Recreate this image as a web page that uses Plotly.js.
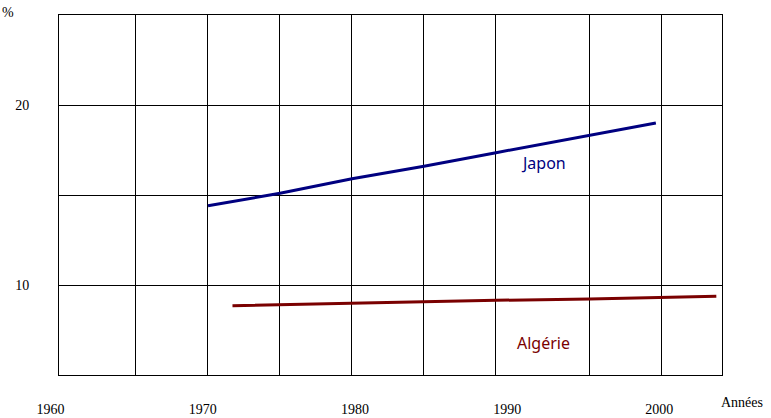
<!DOCTYPE html>
<html><head><meta charset="utf-8">
<script src="https://cdn.plot.ly/plotly-3.0.1.min.js"></script>
<style>body{margin:0;background:#fff}</style>
</head><body>
<div id="chart" style="width:771px;height:418px"></div>
<script>
// Data
const japonYears = [1970, 1975, 1980, 1985, 1990, 2001.1];
const japonValues = [14.4, 15.1, 15.9, 16.6, 17.35, 19.0];
const algerieYears = [1971.7, 1975, 1980, 1985, 1990, 1996.5, 2001.5, 2005.3];
const algerieValues = [8.85, 8.91, 9.0, 9.07, 9.15, 9.22, 9.29, 9.37];
const gridYears = [1965, 1970, 1975, 1980, 1985, 1990, 1996.5, 2001.5];
const labelYears = [1960, 1970, 1980, 1990, 2000];
const labelText = ['1960', '1970', '1980', '1990', '2000'];
const yTicks = [5, 10, 15, 20, 25];
const yTickText = ['', '10', '', '20', ''];

const traces = [
  {x: labelYears, y: labelYears.map(() => null), xaxis: 'x2', yaxis: 'y2', mode: 'markers', showlegend: false, hoverinfo: 'skip'},
  {x: japonYears, y: japonValues, mode: 'lines', line: {color: '#000080', width: 3}, showlegend: false, hoverinfo: 'skip'},
  {x: algerieYears, y: algerieValues, mode: 'lines', line: {color: '#7a0000', width: 3}, showlegend: false, hoverinfo: 'skip'}
];

const serif = {family: 'Liberation Serif, Times New Roman, serif', size: 14, color: '#000'};
const layout = {
  width: 771, height: 418,
  margin: {l: 30, r: 20, t: 15, b: 43},
  paper_bgcolor: '#fff', plot_bgcolor: 'rgba(0,0,0,0)',
  xaxis: {
    domain: [0.04022, 0.95978], range: [1959.653, 2005.694],
    tickmode: 'array', tickvals: gridYears, showticklabels: false, ticks: '',
    showgrid: true, gridcolor: '#000', gridwidth: 1, zeroline: false,
    showline: true, mirror: true, linecolor: '#000', linewidth: 1
  },
  yaxis: {
    range: [5, 25], tickmode: 'array', tickvals: yTicks, ticktext: yTickText,
    ticks: '', ticklabelstandoff: 26, tickfont: serif,
    showgrid: true, gridcolor: '#000', gridwidth: 1, zeroline: false,
    showline: true, mirror: true, linecolor: '#000', linewidth: 1
  },
  xaxis2: {
    domain: [0, 1], range: [1958.65, 2006.02], anchor: 'y2',
    tickmode: 'array', tickvals: labelYears, ticktext: labelText,
    ticks: '', ticklabelstandoff: 24, tickfont: serif,
    showgrid: false, zeroline: false, showline: false
  },
  yaxis2: {domain: [0, 1], range: [5, 25], anchor: 'x2', visible: false},
  annotations: [
    {text: '%', xref: 'paper', yref: 'paper', x: -0.042, y: 1.008, xanchor: 'left', yanchor: 'middle', showarrow: false, font: serif},
    {text: 'Années', xref: 'paper', yref: 'paper', x: 0.9875, y: -0.05, xanchor: 'center', yanchor: 'top', showarrow: false, font: serif},
    {text: 'Japon', xref: 'x', yref: 'y', x: 1993.3, y: 16.78, xanchor: 'center', yanchor: 'middle', showarrow: false,
      font: {family: 'Noto Sans, sans-serif', size: 16, color: '#000080'}},
    {text: 'Algérie', xref: 'x', yref: 'y', x: 1993.3, y: 6.78, xanchor: 'center', yanchor: 'middle', showarrow: false,
      font: {family: 'Noto Sans, sans-serif', size: 16, color: '#7a0000'}}
  ]
};
Plotly.newPlot('chart', traces, layout, {staticPlot: true});
</script>
</body></html>
